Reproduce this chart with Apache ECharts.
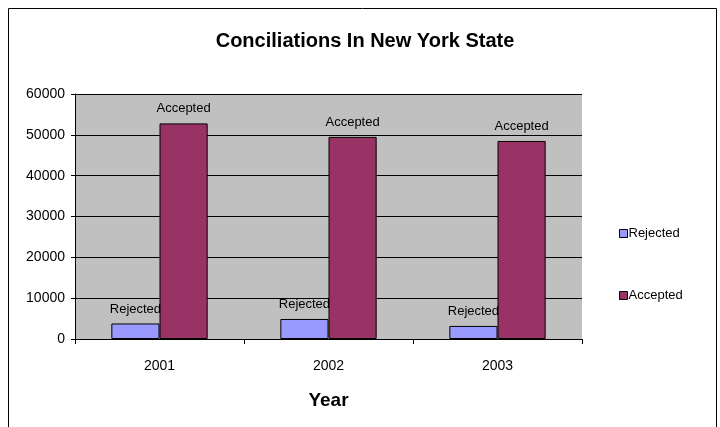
<!DOCTYPE html>
<html><head><meta charset="utf-8">
<script src="https://cdn.jsdelivr.net/npm/echarts@6/dist/echarts.min.js"></script>
<style>html,body{margin:0;padding:0;background:#fff}#c{width:720px;height:427px}</style>
</head><body><div id="c"></div>
<script>
var years = ['2001', '2002', '2003'];
var rejected = [3800, 4900, 3200];
var accepted = [52800, 49500, 48500];
var yTicks = [0, 10000, 20000, 30000, 40000, 50000, 60000];

var chart = echarts.init(document.getElementById('c'));
var font = 'Liberation Sans, Arial, sans-serif';
chart.setOption({
  animation: false,
  backgroundColor: '#fff',
  title: {
    text: 'Conciliations In New York State',
    left: 360, top: 26, textAlign: 'center',
    textStyle: {fontFamily: font, fontSize: 20, fontWeight: 'bold', color: '#000'}
  },
  graphic: [{
    type: 'rect', shape: {x: 8.5, y: 8.5, width: 708, height: 430}, z: -10,
    style: {fill: 'none', stroke: '#000', lineWidth: 1}
  }],
  grid: {left: 75, right: 138, top: 94, bottom: 88, show: true, backgroundColor: '#C0C0C0', borderWidth: 0},
  legend: {
    orient: 'vertical', left: 614, top: 222, itemGap: 49,
    itemWidth: 8, itemHeight: 8, icon: 'rect',
    itemStyle: {borderColor: '#000', borderWidth: 1},
    textStyle: {fontFamily: font, fontSize: 13, color: '#000', padding: [0, 0, 0, -4]},
    data: ['Rejected', 'Accepted']
  },
  xAxis: {
    type: 'category', data: years,
    name: 'Year', nameLocation: 'middle', nameGap: 52,
    nameTextStyle: {fontFamily: font, fontSize: 19, fontWeight: 'bold', color: '#000'},
    axisLine: {lineStyle: {color: '#000', width: 1}},
    axisTick: {show: true, length: 5, lineStyle: {color: '#000'}},
    axisLabel: {fontFamily: font, fontSize: 14, color: '#000', margin: 20}
  },
  yAxis: {
    type: 'value', min: 0, max: 60000, interval: 10000,
    axisLine: {show: true, lineStyle: {color: '#000', width: 1}},
    axisTick: {show: true, length: 4, lineStyle: {color: '#000'}},
    axisLabel: {fontFamily: font, fontSize: 14, color: '#000', margin: 10,
      formatter: function (v) { return yTicks.indexOf(v) >= 0 ? String(v) : ''; }},
    splitLine: {show: true, lineStyle: {color: '#000', width: 1}}
  },
  series: [{
    name: 'Rejected', type: 'bar', data: rejected,
    barGap: '0%', barCategoryGap: '43%',
    itemStyle: {color: '#9999FF', borderColor: '#000', borderWidth: 1},
    label: {show: true, position: 'top', formatter: 'Rejected', fontFamily: font, fontSize: 13, color: '#000', distance: 8}
  }, {
    name: 'Accepted', type: 'bar', data: accepted,
    barGap: '0%', barCategoryGap: '43%',
    itemStyle: {color: '#993366', borderColor: '#000', borderWidth: 1},
    label: {show: true, position: 'top', formatter: 'Accepted', fontFamily: font, fontSize: 13, color: '#000', distance: 8}
  }]
});
</script></body></html>
